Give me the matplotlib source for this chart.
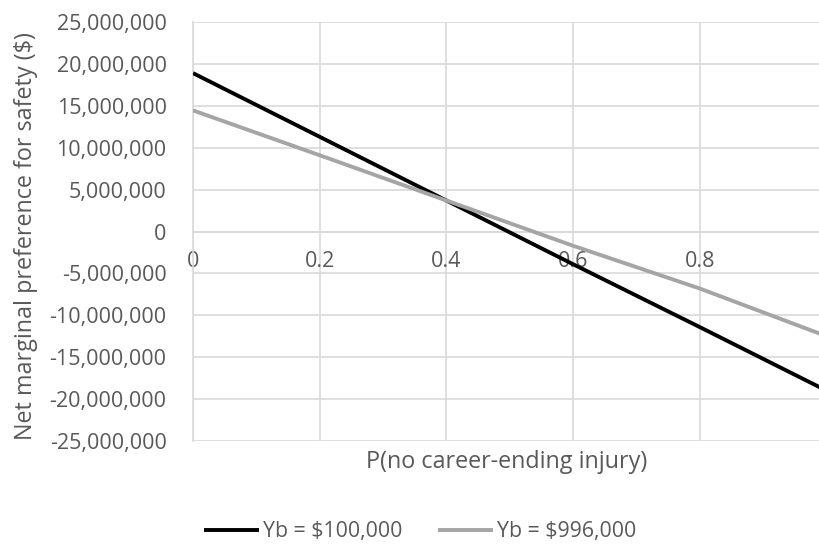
import matplotlib
matplotlib.use("Agg")
import matplotlib.pyplot as plt
from matplotlib.ticker import FuncFormatter, FixedLocator

p_vals = [0.0, 0.2, 0.4, 0.6, 0.8, 0.99]
yb_100k = [18900000, 11300000, 3700000, -3900000, -11400000, -18600000]
yb_996k = [14450000, 9100000, 3700000, -1700000, -6800000, -12200000]
series_labels = ["Yb = $100,000", "Yb = $996,000"]
y_ticks = list(range(-25000000, 25000001, 5000000))
x_ticks = [0, 0.2, 0.4, 0.6, 0.8]

plt.rcParams['font.family'] = ['Open Sans', 'DejaVu Sans']
txt = '#595959'
grid = '#d9d9d9'

fig = plt.figure(figsize=(8.2, 5.44), dpi=100)
ax = fig.add_axes([193/820, 1-441/544, 627/820, (441-22)/544])

ax.plot(p_vals, yb_100k, color='black', lw=2.8, label=series_labels[0], solid_capstyle='butt', zorder=3)
ax.plot(p_vals, yb_996k, color='#a5a5a5', lw=2.8, label=series_labels[1], solid_capstyle='butt', zorder=3)

ax.set_xlim(0, 0.99)
ax.set_ylim(-25000000, 25000000)
ax.yaxis.set_major_locator(FixedLocator(y_ticks))
ax.xaxis.set_major_locator(FixedLocator(x_ticks))
ax.yaxis.set_major_formatter(FuncFormatter(lambda v, _: f"{int(v):,}"))
ax.xaxis.set_major_formatter(FuncFormatter(lambda v, _: "0" if v == 0 else f"{v:g}"))

ax.grid(True, color=grid, lw=1.2, zorder=0)
for s in ['top', 'right']:
    ax.spines[s].set_visible(False)
ax.spines['left'].set_color(grid)
ax.spines['left'].set_linewidth(1.2)
ax.spines['bottom'].set_position(('data', 0))
ax.spines['bottom'].set_color(grid)
ax.spines['bottom'].set_linewidth(1.2)
ax.tick_params(axis='both', length=0, colors=txt, labelsize=15.5)
ax.tick_params(axis='y', pad=19)
ax.tick_params(axis='x', pad=14)

ax.set_xlabel("P(no career-ending injury)", color=txt, fontsize=16.8)
ax.xaxis.set_label_coords(0.5, -0.022)
ax.set_ylabel("Net marginal preference for safety ($)", color=txt, fontsize=16.8)
ax.yaxis.set_label_coords(-0.247, 0.49)

leg = fig.legend(loc='center', bbox_to_anchor=(420/820, 1-532/544), ncol=2, frameon=False,
                 fontsize=15.3, handlelength=2.6, handletextpad=0.2, columnspacing=1.65)
for t in leg.get_texts():
    t.set_color(txt)

fig.savefig("out.png", dpi=100)
